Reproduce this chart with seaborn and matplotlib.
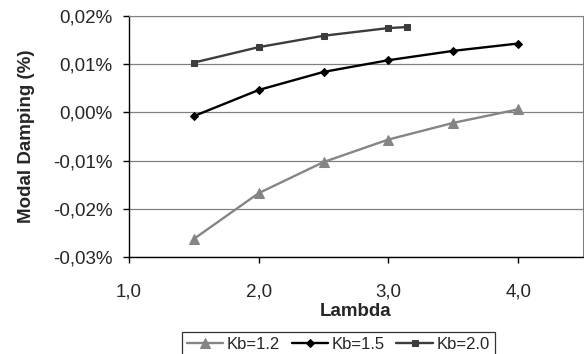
import matplotlib
matplotlib.use("Agg")
import matplotlib.pyplot as plt
from matplotlib.ticker import FuncFormatter
import seaborn as sns
import pandas as pd

# data (damping in %)
lam_12 = [1.5, 2.0, 2.5, 3.0, 3.5, 4.0]
damp_12 = [-0.02625, -0.01675, -0.0103, -0.00563, -0.00217, 0.00063]

lam_15 = [1.5, 2.0, 2.5, 3.0, 3.5, 4.0]
damp_15 = [-0.00077, 0.00465, 0.0084, 0.01083, 0.01277, 0.01429]

lam_20 = [1.5, 2.0, 2.5, 3.0, 3.14]
damp_20 = [0.01033, 0.01354, 0.0159, 0.0175, 0.0177]

labels = ["Kb=1.2", "Kb=1.5", "Kb=2.0"]

sns.set_style("white")
plt.rcParams["font.family"] = ["Liberation Sans", "DejaVu Sans"]

fig = plt.figure(figsize=(5.84, 3.54), dpi=100)
ax = fig.add_axes([129 / 584, 1 - 257 / 354, 454 / 584, 241 / 354])

series = [
    (lam_12, damp_12, labels[0], "#858585", "^", 6.5),
    (lam_15, damp_15, labels[1], "#000000", "D", 4.5),
    (lam_20, damp_20, labels[2], "#3c3c3c", "s", 5),
]
for x, y, lab, col, mk, ms in series:
    df = pd.DataFrame({"Lambda": x, "Damping": y})
    sns.lineplot(data=df, x="Lambda", y="Damping", ax=ax, color=col, marker=mk,
                 markersize=ms, markeredgecolor=col, linewidth=1.7, label=lab)

ax.set_xlim(1.0, 4.5)
ax.set_ylim(-0.03, 0.02)
ax.set_xticks([1, 2, 3, 4])
ax.set_yticks([-0.03, -0.02, -0.01, 0.0, 0.01, 0.02])
ax.xaxis.set_major_formatter(FuncFormatter(lambda v, p: f"{v:.1f}".replace(".", ",")))
ax.yaxis.set_major_formatter(FuncFormatter(lambda v, p: f"{v:.2f}%".replace(".", ",").replace("-0,00", "0,00")))
ax.grid(axis="y", color="#808080", linewidth=0.9)
ax.tick_params(axis="both", direction="out", length=4, width=1, color="black",
               labelsize=13.5, left=True, bottom=True)
ax.tick_params(axis="x", pad=15)
ax.tick_params(axis="y", pad=8)
for s in ["top", "right"]:
    ax.spines[s].set_color("#808080")
for s in ["left", "bottom"]:
    ax.spines[s].set_color("black")
    ax.spines[s].set_linewidth(1.0)

ax.set_xlabel("Lambda", fontsize=13.5, fontweight="bold", labelpad=2)
ax.set_ylabel("Modal Damping (%)", fontsize=13.5, fontweight="bold", labelpad=13)

ax.legend_.remove()
h, l = ax.get_legend_handles_labels()
leg = fig.legend(h, l, loc="lower center", bbox_to_anchor=(0.579, -0.012), ncol=3,
                 frameon=True, fancybox=False, edgecolor="black", fontsize=12,
                 handlelength=2.2, handletextpad=0.2, columnspacing=0.7,
                 borderpad=0.3, borderaxespad=0.1)
leg.get_frame().set_linewidth(0.9)

fig.savefig("out.png", dpi=100)
